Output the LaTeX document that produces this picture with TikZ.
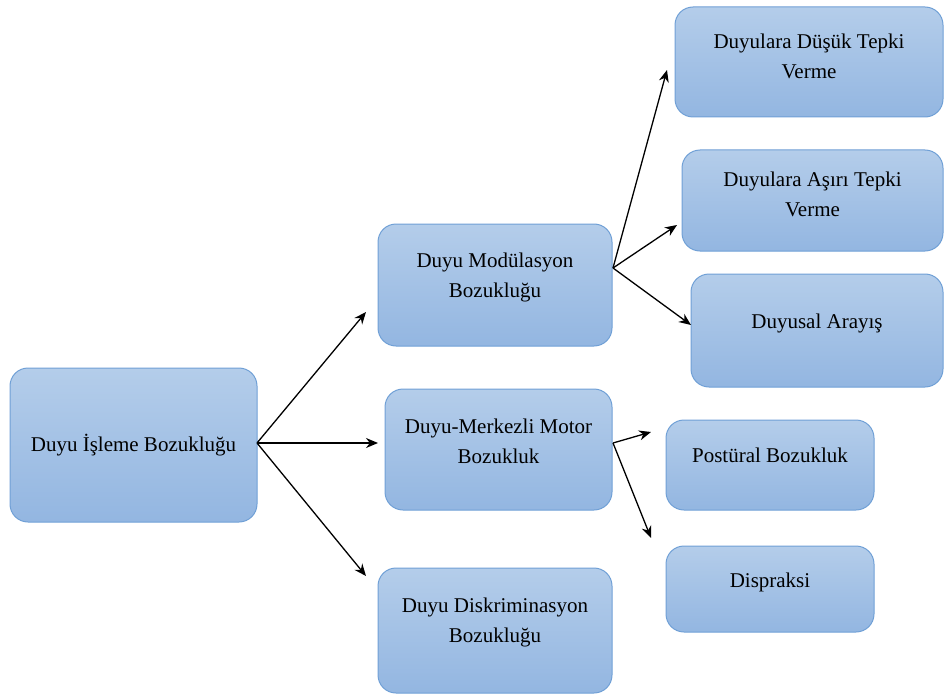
\documentclass[tikz,border=0pt]{standalone}
\usepackage{fontspec}
\setmainfont{Liberation Serif}
\usetikzlibrary{arrows.meta}
\definecolor{boxtop}{RGB}{180,205,234}
\definecolor{boxbot}{RGB}{147,182,225}
\definecolor{boxline}{RGB}{112,160,214}
\begin{document}
\begin{tikzpicture}[x=1pt,y=-1pt,
  box/.style={draw=boxline,line width=1pt,rounded corners=18pt,top color=boxtop,bottom color=boxbot,inner sep=0pt},
  txt/.style={align=center,font=\fontsize{21}{30}\selectfont,inner sep=0pt},
  arr/.style={-{Stealth[length=12pt,width=10pt]},line width=1.3pt,black}]
\useasboundingbox (0,0) rectangle (945,698);
% boxes
\node[box,minimum width=247pt,minimum height=154pt] (A) at (133.5,445) {};
\node[box,minimum width=234pt,minimum height=122pt] (B) at (495,285) {};
\node[box,minimum width=227pt,minimum height=121pt] (C) at (498.5,449.5) {};
\node[box,minimum width=234pt,minimum height=125pt] (D) at (495,630.5) {};
\node[box,minimum width=268pt,minimum height=110pt] (E) at (809,62) {};
\node[box,minimum width=261pt,minimum height=101pt] (F) at (812.5,200.5) {};
\node[box,minimum width=252pt,minimum height=113pt] (G) at (817,330.5) {};
\node[box,minimum width=208pt,minimum height=90pt] (H) at (770,465) {};
\node[box,minimum width=208pt,minimum height=86pt] (I) at (770,589) {};
% texts
\node[txt] (At) at ([yshift=0pt]A) {Duyu İşleme Bozukluğu};
\node[txt] (Bt) at ([yshift=8pt]B) {Duyu Modülasyon\\Bozukluğu};
\node[txt] (Ct) at ([yshift=8pt]C) {Duyu-Merkezli Motor\\Bozukluk};
\node[txt] (Dt) at ([yshift=8pt]D) {Duyu Diskriminasyon\\Bozukluğu};
\node[txt] (Et) at ([yshift=6pt]E) {Duyulara Düşük Tepki\\Verme};
\node[txt] (Ft) at ([yshift=6pt]F) {Duyulara Aşırı Tepki\\Verme};
\node[txt] (Gt) at ([yshift=7pt]G) {Duyusal Arayış};
\node[txt] (Ht) at ([yshift=10pt]H) {Postüral Bozukluk};
\node[txt] (It) at ([yshift=7pt]I) {Dispraksi};
% arrow start/end points
\coordinate (a0) at (257,443);
\coordinate (a1) at (366,312);
\coordinate (a2) at (378,443);
\coordinate (a3) at (366,576);
\coordinate (b0) at (613,268);
\coordinate (b1) at (667,70);
\coordinate (b2) at (677,225);
\coordinate (b3) at (691,325);
\coordinate (c0) at (613,443);
\coordinate (c1) at (651,432);
\coordinate (c2) at (651,538);
\draw[arr] (a0) -- (a1);
\draw[arr] (a0) -- (a2);
\draw[arr] (a0) -- (a3);
\draw[arr] (b0) -- (b1);
\draw[arr] (b0) -- (b2);
\draw[arr] (b0) -- (b3);
\draw[arr] (c0) -- (c1);
\draw[arr] (c0) -- (c2);
\end{tikzpicture}
\end{document}
